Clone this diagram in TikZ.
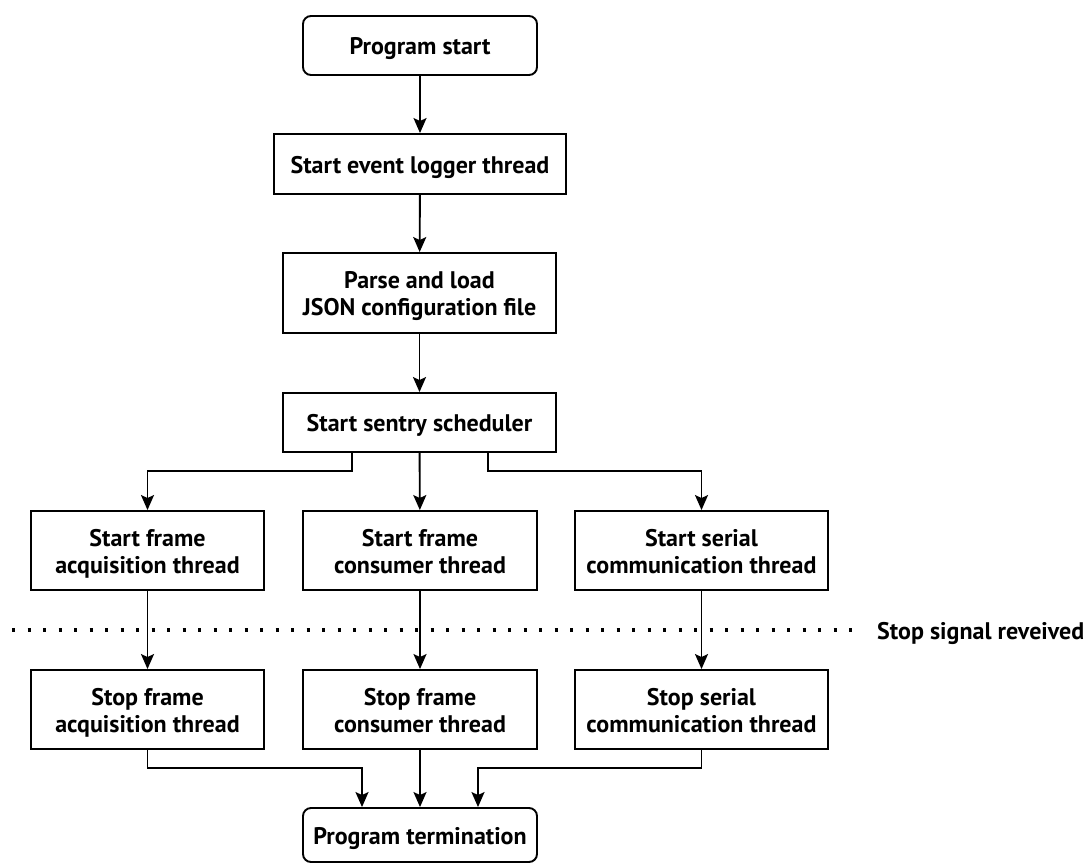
\documentclass[tikz,border=0pt]{standalone}
\usepackage{fontspec}
\setmainfont{PT Sans}
\usetikzlibrary{arrows.meta,calc}
\newcommand\lnstrut{\rule[-7pt]{0pt}{32pt}}
\newcommand\boxfont{\bfseries\fontsize{24}{27}\selectfont\lineskiplimit -100pt\relax}
\begin{document}
\begin{tikzpicture}[x=1pt,y=-1pt,
  every node/.style={font=\boxfont, align=center, inner sep=0pt},
  box/.style={draw, line width=1.9pt, minimum height=#1},
  box/.default=59,
  term/.style={draw, line width=1.9pt, rounded corners=8pt, minimum height=#1},
  arr/.style={line width=1.9pt, -{Stealth[length=15pt,width=13pt,inset=3pt]}},
  sigline/.style={line width=3.3pt, dash pattern=on 3.3pt off 12.2pt}
]
\useasboundingbox (0,0) rectangle (1091,865);
\node[term=59, minimum width=234] (start) at (420,45.5) {\lnstrut Program start};
\node[box=60, minimum width=292] (logger) at (420,164) {\lnstrut Start event logger thread};
\node[box=80, minimum width=273] (parse) at (419.5,293) {\lnstrut Parse and load\\\lnstrut JSON configuration file};
\node[box=59, minimum width=273] (sentry) at (419.5,422.5) {\lnstrut Start sentry scheduler};
\node[box=79, minimum width=233] (sa) at (147.5,550.5) {\lnstrut Start frame\\\lnstrut acquisition thread};
\node[box=79, minimum width=234] (sb) at (420,550.5) {\lnstrut Start frame\\\lnstrut consumer thread};
\node[box=79, minimum width=253] (sc) at (701.5,550.5) {\lnstrut Start serial\\\lnstrut communication thread};
\node[box=79, minimum width=233] (ta) at (147.5,709.5) {\lnstrut Stop frame\\\lnstrut acquisition thread};
\node[box=79, minimum width=234] (tb) at (420,709.5) {\lnstrut Stop frame\\\lnstrut consumer thread};
\node[box=79, minimum width=253] (tc) at (701.5,709.5) {\lnstrut Stop serial\\\lnstrut communication thread};
\node[term=54, minimum width=234] (term) at (420,835) {\lnstrut Program termination};
\coordinate (dl) at (12,630);
\coordinate (dr) at (855,630);
\node[anchor=west] (sig) at (877,630) {\lnstrut Stop signal reveived};
\draw[sigline] (dl) -- (dr);
\draw[arr] (start) -- (logger);
\draw[arr] (logger) -- (parse);
\draw[arr] (parse) -- (sentry);
\draw[arr] ([xshift=-67.5pt]sentry.south) |- ([yshift=39pt]sa.north) -- (sa.north);
\draw[arr] (sentry) -- (sb);
\draw[arr] ([xshift=68.5pt]sentry.south) |- ([yshift=39pt]sc.north) -- (sc.north);
\draw[arr] (sa) -- (ta);
\draw[arr] (sb) -- (tb);
\draw[arr] (sc) -- (tc);
\draw[arr] (ta.south) |- ([xshift=-58pt,yshift=39pt]term.north) -- ([xshift=-58pt]term.north);
\draw[arr] (tb) -- (term);
\draw[arr] (tc.south) |- ([xshift=58pt,yshift=39pt]term.north) -- ([xshift=58pt]term.north);
\end{tikzpicture}
\end{document}
